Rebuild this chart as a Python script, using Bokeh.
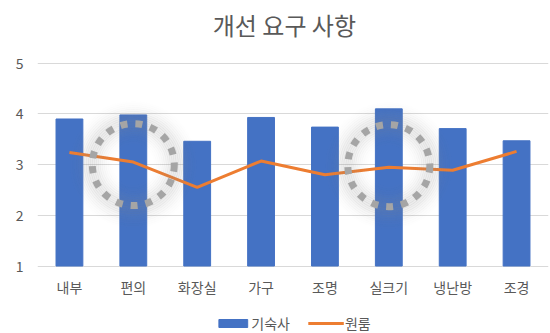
import numpy as np
from bokeh.plotting import figure
from bokeh.models import ColumnDataSource, FactorRange, Range1d, FixedTicker, Legend, LegendItem
from bokeh.transform import dodge
from bokeh.core.properties import value
from bokeh.embed import file_html
from bokeh.resources import INLINE

categories = ["내부", "편의", "화장실", "가구", "조명", "실크기", "냉난방", "조경"]
dorm = [3.90, 3.98, 3.46, 3.93, 3.74, 4.10, 3.71, 3.47]
oneroom = [3.24, 3.05, 2.55, 3.07, 2.80, 2.95, 2.89, 3.26]
highlight_cats = ["편의", "실크기"]
highlight_y = [3.0, 2.98]
y_ticks = [1, 2, 3, 4, 5]
title_text = "개선 요구 사항"

FONT = "Noto Sans CJK KR"
GRAY = "#595959"

# frame covers the full height; value axis spans 1..5 inside it
Y_MIN, Y_MAX = -0.331, 6.237
LABEL_Y = 0.595
TITLE_Y = 5.77

src = ColumnDataSource(dict(cat=categories, dorm=dorm, oneroom=oneroom,
                            base=[y_ticks[0]] * len(categories),
                            lab_y=[LABEL_Y] * len(categories)))

p = figure(width=550, height=333, x_range=FactorRange(*categories), y_range=Range1d(Y_MIN, Y_MAX),
           output_backend="svg", toolbar_location=None, x_axis_location=None,
           min_border_left=37, min_border_right=2, min_border_top=0, min_border_bottom=0)
p.outline_line_color = None
p.background_fill_color = "white"
p.border_fill_color = "white"

p.xgrid.grid_line_color = None
p.ygrid.ticker = FixedTicker(ticks=y_ticks)
p.ygrid.grid_line_color = "#d9d9d9"
p.yaxis.ticker = FixedTicker(ticks=y_ticks)
p.yaxis.axis_line_color = None
p.yaxis.major_tick_line_color = None
p.yaxis.minor_tick_line_color = None
p.yaxis.major_label_standoff = 8
p.yaxis.major_label_text_font = FONT
p.yaxis.major_label_text_font_size = "14px"
p.yaxis.major_label_text_color = GRAY

bars = p.vbar(x="cat", top="dorm", bottom="base", width=0.42, source=src,
              fill_color="#4472C4", line_color="#4472C4")
line = p.line(x="cat", y="oneroom", source=src, line_color="#ED7D31", line_width=3)

# soft glow + dotted rings around highlights
hsrc = ColumnDataSource(dict(cat=highlight_cats, y=highlight_y))
for r in range(18, 72, 2):
    a = 0.16 * np.exp(-((r - 42) / 12.0) ** 2)
    p.scatter(x="cat", y="y", source=hsrc, marker="circle", size=2 * r,
              fill_color=None, line_color="#8a8a8a", line_width=2.5, line_alpha=float(a))
p.scatter(x="cat", y="y", source=hsrc, marker="circle", size=82,
          fill_color=None, line_color="#a5a5a5", line_width=7, line_dash="7 8")

# category labels
p.text(x="cat", y="lab_y", text="cat", source=src, text_font=value(FONT),
       text_font_size="14px", text_color=GRAY, text_align="center", text_baseline="middle")

# title
tsrc = ColumnDataSource(dict(cat=[categories[3]], y=[TITLE_Y], t=[title_text]))
p.text(x=dodge("cat", 0.365, range=p.x_range), y="y", text="t", source=tsrc,
       text_font=value(FONT), text_font_size="24px", text_color=GRAY,
       text_align="center", text_baseline="middle")

legend = Legend(items=[LegendItem(label="기숙사", renderers=[bars]),
                       LegendItem(label="원룸", renderers=[line])],
                orientation="horizontal", location="bottom_center")
legend.glyph_width = 36
legend.glyph_height = 10
legend.label_height = 16
legend.label_text_font = FONT
legend.label_text_font_size = "14px"
legend.label_text_color = GRAY
legend.label_standoff = 1
legend.spacing = 18
legend.border_line_color = None
legend.background_fill_alpha = 0
legend.padding = 1
legend.margin = 0
p.add_layout(legend, "center")

open("out.html", "w").write(file_html(p, INLINE))
